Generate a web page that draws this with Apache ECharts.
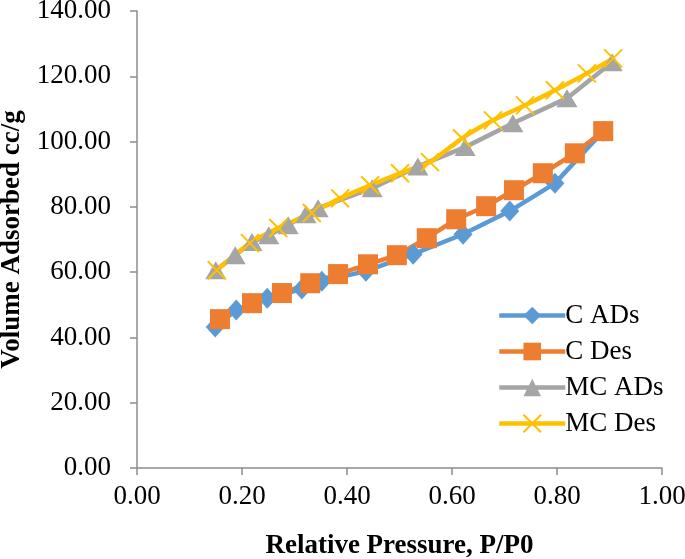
<!DOCTYPE html>
<html>
<head>
<meta charset="utf-8">
<script src="https://cdn.jsdelivr.net/npm/echarts@6/dist/echarts.min.js"></script>
<style>html,body{margin:0;padding:0;background:#fff}#c{width:685px;height:559px}</style>
</head>
<body>
<div id="c"></div>
<script>
var seriesNames = ['C ADs', 'C Des', 'MC ADs', 'MC Des'];
var cAdsX = [0.149, 0.189, 0.248, 0.314, 0.352, 0.436, 0.526, 0.621, 0.710, 0.796, 0.888];
var cAdsY = [43.2, 48.4, 52.0, 54.8, 57.2, 60.3, 65.5, 71.6, 78.7, 87.2, 103.2];
var cDesX = [0.158, 0.219, 0.276, 0.330, 0.383, 0.440, 0.495, 0.552, 0.608, 0.665, 0.718, 0.773, 0.834, 0.888];
var cDesY = [45.6, 50.5, 53.6, 56.6, 59.4, 62.4, 65.2, 70.4, 76.2, 80.2, 85.1, 90.3, 96.4, 103.2];
var mcAdsX = [0.150, 0.187, 0.219, 0.251, 0.288, 0.322, 0.345, 0.448, 0.535, 0.625, 0.716, 0.819, 0.905];
var mcAdsY = [60.6, 65.2, 69.2, 71.3, 74.4, 77.7, 79.6, 85.7, 92.4, 98.3, 105.6, 113.3, 124.3];
var mcDesX = [0.152, 0.215, 0.269, 0.333, 0.387, 0.444, 0.501, 0.558, 0.619, 0.678, 0.739, 0.796, 0.857, 0.907];
var mcDesY = [60.6, 68.9, 73.5, 78.1, 82.6, 86.6, 90.3, 93.7, 101.0, 106.5, 111.1, 115.7, 120.9, 125.5];
var xTitle = 'Relative Pressure, P/P0';
var yTitle = 'Volume Adsorbed cc/g';

function pairs(xs, ys) { return xs.map(function (x, i) { return [x, ys[i]]; }); }

var colors = ['#5B9BD5', '#ED7D31', '#A5A5A5', '#FFC000'];
var crossPath = 'path://M0,0L10,10M10,0L0,10';
var font = '"Liberation Serif","Times New Roman",serif';
var axisColor = '#8c8c8c';

var chart = echarts.init(document.getElementById('c'), null, {renderer: 'canvas'});
chart.setOption({
  animation: false,
  backgroundColor: '#fff',
  color: colors,
  grid: {left: 137, right: 23, top: 11, bottom: 91, containLabel: false, outerBoundsMode: 'none'},
  legend: {
    orient: 'vertical', left: 492, top: 297, itemGap: 9, itemWidth: 66, itemHeight: 22,
    lineStyle: {width: 4.5},
    textStyle: {fontFamily: font, fontSize: 27, color: '#000', padding: [0,0,0,-5]},
    data: seriesNames
  },
  xAxis: {
    type: 'value', min: 0, max: 1, interval: 0.2,
    name: xTitle, nameLocation: 'middle', nameGap: 65,
    nameTextStyle: {fontFamily: font, fontSize: 27, fontWeight: 'bold', color: '#000'},
    axisLine: {show: true, lineStyle: {color: axisColor, width: 1.5}},
    axisTick: {show: true, inside: false, length: 7, lineStyle: {color: axisColor, width: 1.5}},
    splitLine: {show: false},
    axisLabel: {margin: 15, fontFamily: font, fontSize: 27, color: '#000', formatter: function (v) { return v.toFixed(2); }}
  },
  yAxis: {
    type: 'value', min: 0, max: 140, interval: 20,
    name: yTitle, nameLocation: 'middle', nameGap: 97, nameRotate: 90,
    nameTextStyle: {fontFamily: font, fontSize: 27, fontWeight: 'bold', color: '#000'},
    axisLine: {show: true, lineStyle: {color: axisColor, width: 1.5}},
    axisTick: {show: true, inside: false, length: 7, lineStyle: {color: axisColor, width: 1.5}},
    splitLine: {show: false},
    axisLabel: {margin: 26, fontFamily: font, fontSize: 27, color: '#000', formatter: function (v) { return v.toFixed(2); }}
  },
  series: [
    {name: seriesNames[0], type: 'line', data: pairs(cAdsX, cAdsY), symbol: 'diamond', symbolSize: [19, 21],
     lineStyle: {width: 4.5, color: colors[0]}, itemStyle: {color: colors[0]}},
    {name: seriesNames[1], type: 'line', data: pairs(cDesX, cDesY), symbol: 'rect', symbolSize: 20,
     lineStyle: {width: 4.5, color: colors[1]}, itemStyle: {color: colors[1]}},
    {name: seriesNames[2], type: 'line', data: pairs(mcAdsX, mcAdsY), symbol: 'triangle', symbolSize: [21, 18],
     lineStyle: {width: 4.5, color: colors[2]}, itemStyle: {color: colors[2]}},
    {name: seriesNames[3], type: 'line', data: pairs(mcDesX, mcDesY), symbol: crossPath, symbolSize: 18, smooth: 0.2,
     lineStyle: {width: 4.5, color: colors[3]}, itemStyle: {color: 'none', borderColor: colors[3], borderWidth: 2}}
  ]
});
</script>
</body>
</html>
